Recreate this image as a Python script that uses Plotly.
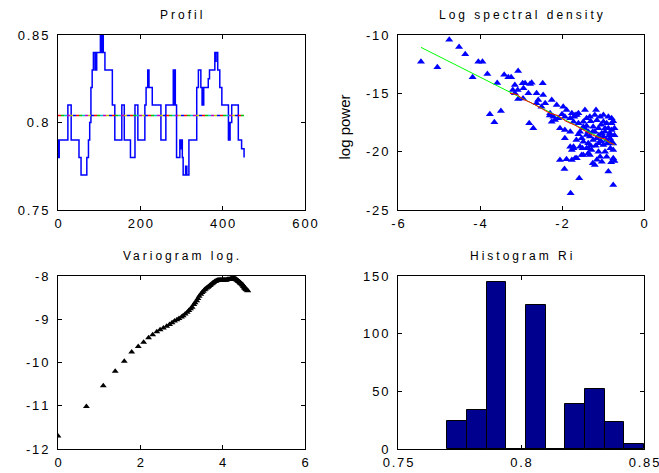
import plotly.graph_objects as go

# ---------------- data ----------------
# Profile (step series): index where level changes, and level
profile_x = [0, 1, 2, 3, 24, 32, 51, 56, 70, 74, 77, 80, 83, 86, 90, 91, 93, 94, 98,
             103, 104, 105, 106, 107, 110, 114, 132, 138, 155, 161, 176, 187, 194,
             211, 214, 218, 219, 220, 221, 229, 250, 262, 280, 281, 282, 283, 284,
             285, 288, 296, 298, 299, 302, 304, 310, 311, 312, 313, 318, 337, 341,
             347, 350, 351, 352, 354, 365, 368, 381, 383, 384, 388, 393, 398, 414,
             415, 416, 418, 422, 438, 446, 452]
profile_y = [0.78, 0.79, 0.78, 0.79, 0.81, 0.79, 0.78, 0.77, 0.78, 0.79, 0.80, 0.82,
             0.83, 0.84, 0.83, 0.84, 0.83, 0.84, 0.84, 0.85, 0.84, 0.85, 0.84, 0.85,
             0.84, 0.83, 0.81, 0.79, 0.81, 0.79, 0.78, 0.81, 0.79, 0.81, 0.82, 0.83,
             0.82, 0.83, 0.82, 0.81, 0.79, 0.81, 0.83, 0.81, 0.83, 0.81, 0.83, 0.81,
             0.78, 0.79, 0.785, 0.79, 0.78, 0.77, 0.775, 0.77, 0.775, 0.77, 0.79,
             0.82, 0.83, 0.82, 0.81, 0.82, 0.81, 0.82, 0.825, 0.83, 0.84, 0.835,
             0.84, 0.83, 0.82, 0.81, 0.79, 0.80, 0.79, 0.80, 0.81, 0.79, 0.785, 0.78]
profile_mean_x = [0, 452]
profile_mean_y = [0.804, 0.804]
mean_colors = ["#FF0000", "#00BF00", "#00BFBF", "#BF00BF", "#BFBF00", "#0000FF"]

# Log spectral density
spec_x = [-5.44, -5.04, -4.75, -4.51, -4.36, -4.04, -3.94, -4.18, -3.82, -3.58, -3.41,
          -3.31, -3.24, -3.07, -3.20, -3.08, -2.96, -2.94, -3.76, -3.65, -3.49, -3.15,
          -2.90, -2.78, -2.74, -2.47, -3.15, -2.82, -2.62, -2.46, -2.80, -2.70, -2.62,
          -2.50, -2.41, -2.25, -2.13, -2.29, -2.21, -2.09, -2.25, -2.17, -1.97, -1.89,
          -1.76, -1.64, -1.93, -1.80, -1.60, -1.44, -2.05, -1.93, -1.80, -1.93, -1.48,
          -1.56, -1.52, -1.40, -1.80, -1.72, -1.76, -1.36, -2.05, -1.89, -1.76, -1.64,
          -1.48, -1.36, -1.94, -1.58, -1.79, -1.68, -1.60, -1.72, -1.48, -1.40, -1.32,
          -1.20, -1.07, -0.99, -0.87, -0.79, -0.99, -0.91, -0.79, -1.24, -1.11, -0.87,
          -0.79, -1.36, -1.20, -1.03, -0.95, -0.83, -1.32, -1.15, -0.99, -0.83, -1.48,
          -1.36, -1.24, -0.91, -0.79, -1.72, -1.56, -1.40, -1.11, -0.99, -1.28, -1.11,
          -0.95, -0.75, -1.68, -1.52, -1.32, -1.07, -0.91, -1.20, -1.03, -0.75, -0.87,
          -0.75, -0.75, -0.72, -0.72, -0.75, -1.15, -1.05, -0.95, -1.25, -1.10, -0.85,
          -0.90, -1.05, -1.18, -0.82, -0.72, -0.80, -1.30, -1.40, -1.30, -1.45, -1.60,
          -1.65, -1.50, -1.25, -1.15, -1.17, -3.07, -2.95, -2.58, -2.30, -2.00, -1.70]
spec_y = [-12.29, -12.77, -10.40, -11.03, -11.65, -12.29, -12.29, -13.63, -13.35, -14.12,
          -13.40, -13.63, -13.63, -13.08, -14.71, -14.71, -14.14, -14.57, -16.80, -17.48,
          -16.51, -14.28, -14.14, -14.20, -14.09, -14.14, -15.00, -15.00, -15.00, -15.14,
          -17.57, -18.00, -15.85, -16.14, -15.85, -15.57, -16.00, -16.71, -17.00, -17.14,
          -17.43, -17.29, -16.14, -16.43, -16.71, -16.86, -17.00, -17.14, -17.57, -16.43,
          -18.00, -18.14, -18.29, -18.86, -17.86, -18.29, -18.86, -18.57, -19.57, -19.71,
          -19.86, -19.71, -20.71, -20.65, -20.71, -20.57, -20.28, -20.14, -21.48, -22.28,
          -23.57, -16.86, -16.71, -17.43, -17.43, -17.14, -17.00, -16.86, -17.00, -16.86,
          -17.00, -17.14, -17.43, -17.57, -17.57, -17.86, -18.00, -18.00, -18.14, -18.29,
          -18.29, -18.43, -18.29, -18.43, -18.71, -18.86, -18.71, -18.86, -19.14, -19.28,
          -19.00, -19.00, -19.14, -19.57, -19.57, -19.71, -19.28, -19.43, -19.86, -20.00,
          -20.00, -19.86, -20.57, -20.28, -20.28, -20.43, -20.43, -21.14, -20.86, -20.57,
          -21.71, -22.86, -17.40, -18.00, -18.60, -19.30, -17.30, -17.70, -18.00, -18.30,
          -18.60, -18.60, -19.30, -19.10, -19.50, -19.70, -20.80, -20.90, -17.40, -17.80,
          -19.50, -18.00, -18.50, -19.00, -19.70, -21.00, -20.70, -16.43, -15.49, -15.45,
          -15.57, -16.90, -16.80, -17.00]
green_x = [-5.44, -0.71]
green_y = [-11.06, -19.43]
red_x = [-3.27, -3.10, -2.95, -2.70, -2.50, -2.30, -2.10, -1.90, -1.70, -1.50, -1.30,
         -1.10, -0.95, -0.85, -0.72]
red_y = [-15.00, -15.10, -15.50, -15.90, -16.30, -16.70, -16.90, -17.40, -17.70, -18.10,
         -18.50, -18.80, -18.90, -19.20, -19.40]

# Variogram (log lag, log variogram), lags 1..100
vario_x = [0.00, 0.69, 1.10, 1.39, 1.61, 1.79, 1.95, 2.08, 2.20, 2.30, 2.40, 2.48, 2.56,
           2.64, 2.71, 2.77, 2.83, 2.89, 2.94, 3.00, 3.04, 3.09, 3.14, 3.18, 3.22, 3.26,
           3.30, 3.33, 3.37, 3.40, 3.43, 3.47, 3.50, 3.53, 3.56, 3.58, 3.61, 3.64, 3.66,
           3.69, 3.71, 3.74, 3.76, 3.78, 3.81, 3.83, 3.85, 3.87, 3.89, 3.91, 3.93, 3.95,
           3.97, 3.99, 4.01, 4.03, 4.04, 4.06, 4.08, 4.09, 4.11, 4.13, 4.14, 4.16, 4.17,
           4.19, 4.20, 4.22, 4.23, 4.25, 4.26, 4.28, 4.29, 4.30, 4.32, 4.33, 4.34, 4.36,
           4.37, 4.38, 4.39, 4.41, 4.42, 4.43, 4.44, 4.45, 4.47, 4.48, 4.49, 4.50, 4.51,
           4.52, 4.53, 4.54, 4.55, 4.56, 4.57, 4.58, 4.60, 4.61]
vario_y = [-11.70, -11.02, -10.54, -10.20, -9.97, -9.76, -9.63, -9.53, -9.43, -9.36,
           -9.29, -9.24, -9.20, -9.16, -9.12, -9.08, -9.04, -9.01, -8.98, -8.95, -8.92,
           -8.88, -8.84, -8.80, -8.76, -8.72, -8.66, -8.62, -8.57, -8.52, -8.47, -8.42,
           -8.38, -8.35, -8.32, -8.30, -8.28, -8.26, -8.24, -8.22, -8.20, -8.18, -8.16,
           -8.15, -8.13, -8.12, -8.11, -8.10, -8.10, -8.09, -8.09, -8.09, -8.09, -8.09,
           -8.09, -8.09, -8.09, -8.09, -8.09, -8.09, -8.08, -8.08, -8.08, -8.08, -8.08,
           -8.07, -8.07, -8.06, -8.06, -8.06, -8.06, -8.06, -8.06, -8.07, -8.07, -8.08,
           -8.09, -8.10, -8.11, -8.12, -8.13, -8.14, -8.15, -8.16, -8.17, -8.18, -8.19,
           -8.20, -8.21, -8.23, -8.24, -8.25, -8.27, -8.28, -8.29, -8.30, -8.31, -8.32,
           -8.33, -8.34]

# Histogram Ri
hist_centers = [0.774, 0.782, 0.790, 0.798, 0.806, 0.814, 0.822, 0.830, 0.838, 0.846]
hist_counts = [24, 34, 145, 0, 125, 0, 39, 52, 23, 4]
hist_width = 0.008

# tick labels
prof_xt = [0, 200, 400, 600]
prof_xtl = ["0", "200", "400", "600"]
prof_yt = [0.75, 0.8, 0.85]
prof_ytl = ["0.75", "0.8", "0.85"]
spec_xt = [-6, -4, -2, 0]
spec_xtl = ["-6", "-4", "-2", "0"]
spec_yt = [-25, -20, -15, -10]
spec_ytl = ["-25", "-20", "-15", "-10"]
var_xt = [0, 2, 4, 6]
var_xtl = ["0", "2", "4", "6"]
var_yt = [-12, -11, -10, -9, -8]
var_ytl = ["-12", "-11", "-10", "-9", "-8"]
hist_xt = [0.75, 0.8, 0.85]
hist_xtl = ["0.75", "0.8", "0.85"]
hist_yt = [0, 50, 100, 150]
hist_ytl = ["0", "50", "100", "150"]

titles = ["Profil", "Log spectral density", "Variogram log.", "Histogram Ri"]
ylabel_spec = "log power"

# ---------------- figure ----------------
W, H = 659, 473
FONT = "Liberation Sans, Arial, sans-serif"
TICK_LS = 1.8  # letter spacing of tick labels (px)
TITLE_LS = 3   # letter spacing of titles (px)


def spaced(s, ls):
    # spacing between characters only (none after the last one)
    if len(s) < 2:
        return s
    return f'<span style="letter-spacing:{ls}px">{s[:-1]}</span>{s[-1]}'


def fx(px):  # window px -> paper x
    return px / W


def fy(py):  # window px -> paper y
    return 1 - py / H


fig = go.Figure()

# profile step line
fig.add_trace(go.Scatter(x=profile_x, y=profile_y, mode="lines",
                         line=dict(color="#0000FF", width=1.5, shape="hv"),
                         xaxis="x", yaxis="y", showlegend=False))
# multicoloured mean line
n = len(mean_colors)
seg = 3
for i, c in enumerate(mean_colors):
    pre = seg * i
    post = seg * n - seg - pre
    dash = f"0px,{pre}px,{seg}px,{post}px" if pre > 0 else f"{seg}px,{post}px"
    fig.add_trace(go.Scatter(x=profile_mean_x, y=profile_mean_y, mode="lines",
                             line=dict(color=c, width=1.5, dash=dash),
                             xaxis="x", yaxis="y", showlegend=False))

# spectral scatter
fig.add_trace(go.Scatter(x=spec_x, y=spec_y, mode="markers",
                         marker=dict(symbol="triangle-up", size=7, color="#0000FF", line=dict(width=0)),
                         xaxis="x2", yaxis="y2", showlegend=False))
fig.add_trace(go.Scatter(x=green_x, y=green_y, mode="lines", line=dict(color="#00FF00", width=1),
                         xaxis="x2", yaxis="y2", showlegend=False))
fig.add_trace(go.Scatter(x=red_x, y=red_y, mode="lines", line=dict(color="#FF0000", width=1),
                         xaxis="x2", yaxis="y2", showlegend=False))

# variogram
fig.add_trace(go.Scatter(x=vario_x, y=vario_y, mode="markers",
                         marker=dict(symbol="triangle-up", size=6, color="#000000", line=dict(width=0)),
                         xaxis="x3", yaxis="y3", showlegend=False))

# histogram
fig.add_trace(go.Bar(x=hist_centers, y=hist_counts, width=hist_width,
                     marker=dict(color="#00008F", line=dict(color="#000000", width=1)),
                     xaxis="x4", yaxis="y4", showlegend=False))

L1, R1 = fx(58), fx(305)
L2, R2 = fx(398), fx(644)
T1, B1 = fy(35), fy(210)
T2, B2 = fy(276), fy(449)


def ax(domain, rng, tv, tt, anchor, standoff):
    return dict(domain=domain, range=rng, tickvals=tv,
                ticktext=[spaced(t, TICK_LS) for t in tt],
                showgrid=False, zeroline=False,
                showline=True, linecolor="black", linewidth=1, mirror="ticks",
                ticks="inside", ticklen=4, tickcolor="black", tickwidth=1,
                automargin=False, ticklabelstandoff=standoff, ticklabeloverflow="allow",
                tickfont=dict(family=FONT, size=13, color="black"), anchor=anchor)


XS, YS = 1, 6
fig.update_layout(
    template="none",
    width=W, height=H, margin=dict(l=0, r=0, t=0, b=0),
    paper_bgcolor="white", plot_bgcolor="white",
    bargap=0,
    xaxis=ax([L1, R1], [0, 600], prof_xt, prof_xtl, "y", XS),
    yaxis=ax([B1, T1], [0.75, 0.85], prof_yt, prof_ytl, "x", YS),
    xaxis2=ax([L2, R2], [-6, 0], spec_xt, spec_xtl, "y2", XS),
    yaxis2=ax([B1, T1], [-25, -10], spec_yt, spec_ytl, "x2", YS),
    xaxis3=ax([L1, R1], [0, 6], var_xt, var_xtl, "y3", XS),
    yaxis3=ax([B2, T2], [-12, -8], var_yt, var_ytl, "x3", YS),
    xaxis4=ax([L2, R2], [0.75, 0.85], hist_xt, hist_xtl, "y4", XS),
    yaxis4=ax([B2, T2], [0, 150], hist_yt, hist_ytl, "x4", YS),
)

title_pos = [((L1 + R1) / 2, fy(15)), ((L2 + R2) / 2, fy(15)),
             ((L1 + R1) / 2, fy(256)), ((L2 + R2) / 2, fy(255.5))]
for t, (x, y) in zip(titles, title_pos):
    fig.add_annotation(text=spaced(t, TITLE_LS), x=x, y=y, xref="paper", yref="paper",
                       showarrow=False, xanchor="center", yanchor="middle",
                       font=dict(family=FONT, size=12, color="black"))
fig.add_annotation(text=ylabel_spec, x=fx(344.5), y=fy(127), xref="paper", yref="paper",
                   showarrow=False, textangle=-90, xanchor="center", yanchor="middle",
                   font=dict(family=FONT, size=15, color="black"))

# remove the page's default 8px body margin so the figure fills the window exactly
fig.write_html("out.html", config={"displayModeBar": False},
               post_script="document.body.style.margin='0';document.body.style.overflow='hidden';")
